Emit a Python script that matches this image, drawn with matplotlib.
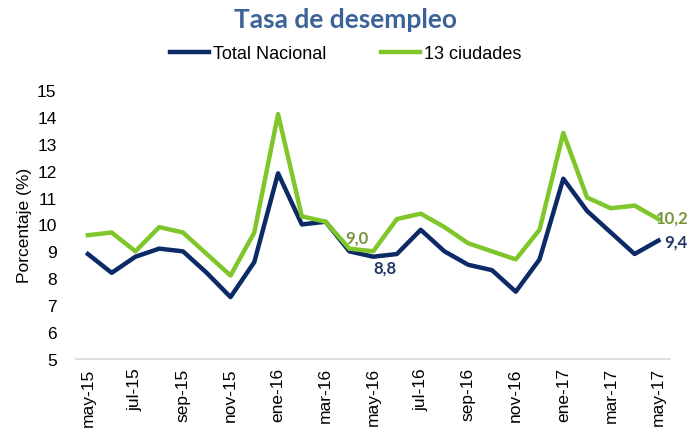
import matplotlib.pyplot as plt

months = ['may-15', 'jun-15', 'jul-15', 'ago-15', 'sep-15', 'oct-15', 'nov-15', 'dic-15',
          'ene-16', 'feb-16', 'mar-16', 'abr-16', 'may-16', 'jun-16', 'jul-16', 'ago-16',
          'sep-16', 'oct-16', 'nov-16', 'dic-16', 'ene-17', 'feb-17', 'mar-17', 'abr-17',
          'may-17']
total_nacional = [8.9, 8.2, 8.8, 9.1, 9.0, 8.2, 7.3, 8.6, 11.9, 10.0, 10.1, 9.0, 8.8,
                  8.9, 9.8, 9.0, 8.5, 8.3, 7.5, 8.7, 11.7, 10.5, 9.7, 8.9, 9.4]
trece_ciudades = [9.6, 9.7, 9.0, 9.9, 9.7, 8.9, 8.1, 9.7, 14.1, 10.3, 10.1, 9.1, 9.0,
                  10.2, 10.4, 9.9, 9.3, 9.0, 8.7, 9.8, 13.4, 11.0, 10.6, 10.7, 10.2]

navy = '#0b2a66'
green = '#7ec62a'

fig = plt.figure(figsize=(6.91, 4.39), dpi=100)
ax = fig.add_axes([0.110, 0.180, 0.860, 0.613])

x = list(range(len(months)))
ax.plot(x, total_nacional, color=navy, lw=3.2, label='Total Nacional', solid_joinstyle='round')
ax.plot(x, trece_ciudades, color=green, lw=3.2, label='13 ciudades', solid_joinstyle='round')

ax.set_xlim(-0.5, len(months) - 0.5)
ax.set_ylim(5, 15)
ax.set_yticks(range(5, 16))
ax.set_xticks(x[::2])
ax.set_xticklabels(months[::2], rotation=90, family='Liberation Sans', fontsize=12.5)
for lab in ax.get_yticklabels():
    lab.set_family('Liberation Sans')
    lab.set_fontsize(12.5)
ax.tick_params(axis='x', length=0, pad=6)
ax.tick_params(axis='y', length=0, pad=14)
for s in ['top', 'right', 'left']:
    ax.spines[s].set_visible(False)
ax.spines['bottom'].set_color('#d9d9d9')
ax.spines['bottom'].set_linewidth(1.2)
ax.set_ylabel('Porcentaje (%)', family='Liberation Sans', fontsize=12.5, labelpad=4)

# data labels
lbl = dict(family='Lato', fontweight='bold', fontsize=12)
ax.annotate('9,0', (12, trece_ciudades[12]), xytext=(-3, 10), textcoords='offset points',
            ha='right', va='center', color='#77933c', **lbl)
ax.annotate('8,8', (12, total_nacional[12]), xytext=(0, -8), textcoords='offset points',
            ha='left', va='center', color='#1f3864', **lbl)
ax.annotate('10,2', (24, trece_ciudades[24]), xytext=(-2, 1), textcoords='offset points',
            ha='left', va='center', color='#77933c', **lbl)
ax.annotate('9,4', (24, total_nacional[24]), xytext=(4, -1), textcoords='offset points',
            ha='left', va='center', color='#1f3864', **lbl)

fig.text(0.5, 0.955, 'Tasa de desempleo', ha='center', va='center', family='Lato',
         fontweight='bold', fontsize=19, color='#3b6399')
fig.legend(loc='center', bbox_to_anchor=(0.5, 0.876), ncol=2, frameon=False,
           prop={'family': 'Liberation Sans', 'size': 13}, handlelength=2.2,
           handletextpad=0.2, columnspacing=3.0)

fig.savefig('out.png', dpi=100)
